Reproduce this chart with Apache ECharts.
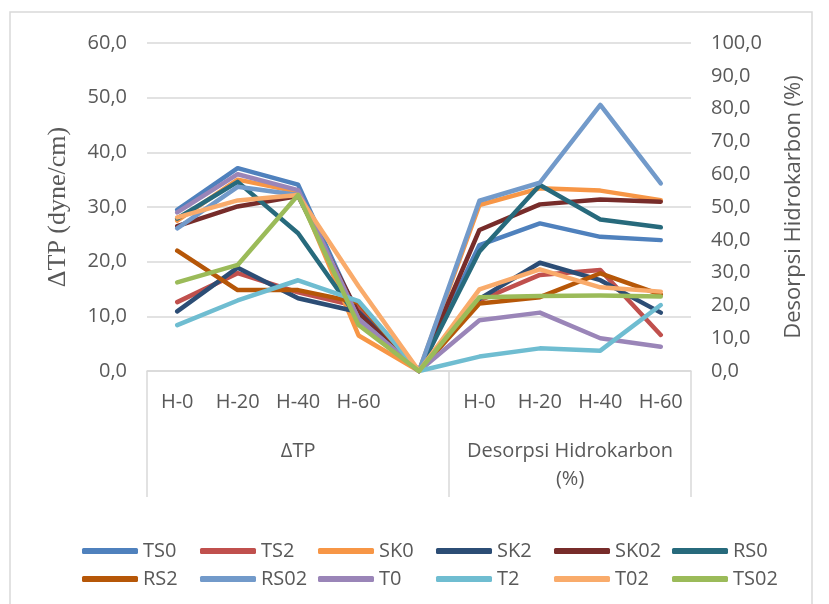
<!DOCTYPE html>
<html>
<head>
<meta charset="utf-8">
<script src="https://cdn.jsdelivr.net/npm/echarts@6/dist/echarts.min.js"></script>
<style>
html,body{margin:0;padding:0;background:#fff;}
#chart{width:829px;height:604px;}
</style>
</head>
<body>
<div id="chart"></div>
<script>
// Categories (first group ΔTP, a blank separator, second group Desorpsi)
const categories = ['H-0', 'H-20', 'H-40', 'H-60', '', 'H-0', 'H-20', 'H-40', 'H-60'];
const groupNames = ['ΔTP', 'Desorpsi Hidrokarbon\n(%)'];
const leftTicks = [0, 10, 20, 30, 40, 50, 60];
const rightTicks = [0, 10, 20, 30, 40, 50, 60, 70, 80, 90, 100];

const seriesNames = ['TS0', 'TS2', 'SK0', 'SK2', 'SK02', 'RS0', 'RS2', 'RS02', 'T0', 'T2', 'T02', 'TS02'];
const seriesColors = ['#4F81BD', '#C0504D', '#F79646', '#2C4D75', '#772C2A', '#276A7C', '#B65708', '#729ACA', '#9A85B8', '#6FBDD1', '#F9AB6B', '#9BBB59'];

// ΔTP (dyne/cm) at H-0, H-20, H-40, H-60
const dTP_TS0  = [29.5, 37.1, 34.1, 10.0];
const dTP_TS2  = [12.6, 17.9, 14.4, 11.8];
const dTP_SK0  = [27.5, 35.0, 32.8, 6.5];
const dTP_SK2  = [10.9, 18.9, 13.3, 10.8];
const dTP_SK02 = [26.5, 30.1, 32.0, 10.5];
const dTP_RS0  = [27.9, 34.6, 25.2, 9.5];
const dTP_RS2  = [22.0, 14.8, 14.8, 12.5];
const dTP_RS02 = [26.1, 33.7, 32.2, 9.5];
const dTP_T0   = [29.0, 36.0, 33.1, 9.5];
const dTP_T2   = [8.4, 12.9, 16.6, 12.8];
const dTP_T02  = [28.1, 31.2, 32.2, 15.5];
const dTP_TS02 = [16.2, 19.4, 32.2, 8.4];

// Desorpsi Hidrokarbon (%) at H-0, H-20, H-40, H-60
const des_TS0  = [38.4, 45.0, 40.9, 39.9];
const des_TS2  = [21.5, 29.3, 30.8, 11.0];
const des_SK0  = [50.6, 55.7, 55.0, 52.1];
const des_SK2  = [22.0, 33.0, 27.7, 17.8];
const des_SK02 = [43.0, 50.8, 52.3, 51.6];
const des_RS0  = [36.4, 56.7, 46.2, 43.8];
const des_RS2  = [20.6, 22.5, 29.8, 23.3];
const des_RS02 = [51.9, 57.4, 81.1, 57.2];
const des_T0   = [15.5, 17.8, 10.0, 7.4];
const des_T2   = [4.4, 6.9, 6.2, 20.1];
const des_T02  = [24.9, 31.0, 25.5, 24.2];
const des_TS02 = [22.5, 22.9, 23.0, 22.7];

// value at the blank middle category
const blankValue = 0;

const dTP = {TS0: dTP_TS0, TS2: dTP_TS2, SK0: dTP_SK0, SK2: dTP_SK2, SK02: dTP_SK02, RS0: dTP_RS0, RS2: dTP_RS2, RS02: dTP_RS02, T0: dTP_T0, T2: dTP_T2, T02: dTP_T02, TS02: dTP_TS02};
const des = {TS0: des_TS0, TS2: des_TS2, SK0: des_SK0, SK2: des_SK2, SK02: des_SK02, RS0: des_RS0, RS2: des_RS2, RS02: des_RS02, T0: des_T0, T2: des_T2, T02: des_T02, TS02: des_TS02};

const FONT = '"Open Sans", "Liberation Sans", sans-serif';
const TXT = '#595959';
const GRIDC = '#D9D9D9';
const fmt = v => v.toFixed(1).replace('.', ',');

const series = [];
seriesNames.forEach((n, i) => {
  const common = {
    name: n, type: 'line', symbol: 'none', smooth: false,
    lineStyle: {width: 4.5, color: seriesColors[i], cap: 'round', join: 'round'},
    itemStyle: {color: seriesColors[i]},
    emphasis: {disabled: true}, animation: false
  };
  series.push(Object.assign({}, common, {
    yAxisIndex: 0,
    data: dTP[n].concat([blankValue, null, null, null, null])
  }));
  series.push(Object.assign({}, common, {
    yAxisIndex: 1,
    data: [null, null, null, null, blankValue].concat(des[n])
  }));
});

const legendCommon = {
  left: 77, orient: 'horizontal', itemGap: 0,
  itemWidth: 56, itemHeight: 6, icon: 'roundRect',
  textStyle: {fontFamily: FONT, fontSize: 20, color: TXT, width: 57, height: 28, lineHeight: 28, padding: [0, 0, 0, 0]}
};

const chart = echarts.init(document.getElementById('chart'), null, {renderer: 'canvas'});
chart.setOption({
  animation: false,
  backgroundColor: '#fff',
  color: seriesColors,
  grid: {left: 147, right: 138, top: 43, bottom: 233, containLabel: false},
  legend: [
    Object.assign({}, legendCommon, {top: 532, data: seriesNames.slice(0, 6)}),
    Object.assign({}, legendCommon, {top: 560, data: seriesNames.slice(6)})
  ],
  xAxis: [
    {
      type: 'category', data: categories, boundaryGap: true, position: 'bottom',
      axisLine: {show: true, lineStyle: {color: GRIDC, width: 1.5}},
      axisTick: {show: false},
      axisLabel: {fontFamily: FONT, fontSize: 20, color: TXT, margin: 21, interval: 0}
    },
    {
      type: 'value', min: 0, max: 9, position: 'bottom',
      axisLine: {show: false},
      splitLine: {show: false},
      axisTick: {show: true, customValues: [0, 5, 9], length: 126, lineStyle: {color: GRIDC, width: 1.5}},
      axisLabel: {
        show: true, customValues: [2.5, 7], margin: 66,
        fontFamily: FONT, fontSize: 20, color: TXT, lineHeight: 28, verticalAlign: 'top',
        formatter: v => (v < 5 ? groupNames[0] : groupNames[1])
      }
    }
  ],
  yAxis: [
    {
      type: 'value', min: leftTicks[0], max: leftTicks[leftTicks.length - 1], interval: 10, position: 'left',
      axisLine: {show: false}, axisTick: {show: false},
      splitLine: {show: true, lineStyle: {color: GRIDC, width: 1.5}},
      axisLabel: {fontFamily: FONT, fontSize: 20, color: TXT, margin: 20, formatter: fmt},
      name: 'ΔTP (dyne/cm)', nameLocation: 'middle', nameGap: 76, nameRotate: 90,
      nameTextStyle: {fontFamily: '"Liberation Serif", "DejaVu Serif", serif', fontSize: 26, color: TXT}
    },
    {
      type: 'value', min: rightTicks[0], max: rightTicks[rightTicks.length - 1], interval: 10, position: 'right',
      axisLine: {show: false}, axisTick: {show: false},
      splitLine: {show: false},
      axisLabel: {fontFamily: FONT, fontSize: 20, color: TXT, margin: 20, formatter: fmt},
      name: 'Desorpsi Hidrokarbon (%)', nameLocation: 'middle', nameGap: 92, nameRotate: 90,
      nameTextStyle: {fontFamily: FONT, fontSize: 22, color: TXT}
    }
  ],
  graphic: [{
    type: 'rect', shape: {x: 10, y: 12, width: 802, height: 600}, silent: true,
    style: {fill: null, stroke: GRIDC, lineWidth: 1.5}, z: -1
  }],
  series: series
});
</script>
</body>
</html>
